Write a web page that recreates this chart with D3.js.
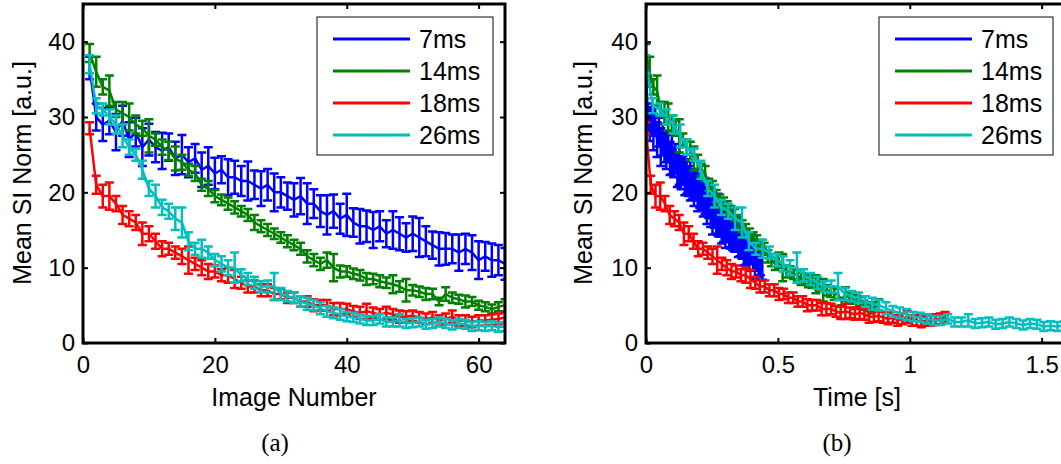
<!DOCTYPE html>
<html>
<head>
<meta charset="utf-8">
<script src="https://cdn.jsdelivr.net/npm/d3@7"></script>
<style>
  body { margin: 0; background: #fff; }
  svg { display: block; }
</style>
</head>
<body>
<svg id="fig" width="1061" height="464"></svg>
<script>
// series labels and echo times (ms)
const seriesNames = ["7ms", "14ms", "18ms", "26ms"];
const echoTimes = [7, 14, 18, 26];
const seriesColors = ["#0000ff", "#008000", "#ff0000", "#00bfbf"];

// mean SI norm per image (1..64)
const si7 = [36.5,30,29,29.5,28,29.5,27,28,26,27,26,25.5,26,24.5,25,24,24.5,23,23.5,22.5,23,22,22,21.5,21.5,21,20.5,21,20,20,19.5,19,
  19.5,18.5,18.5,17.5,17,17.5,16.5,17,16,15.5,15.5,15,15.5,14.5,15,14.5,14,14.5,14,13.5,13,12.5,12.5,12.5,12,12.5,12,11,11.5,11,11,10.5];
const si14 = [38.5,36,34,33.5,31,30.5,30,29,28.5,27.5,27,26,25.5,24.5,24,23,22.5,21,20.5,19.5,19,18.5,18,17.5,17,16,15.5,15,14.5,14,13.5,13,
  12.5,11.5,11,10.5,11,10,9.5,9.5,9.2,9,8.5,8.5,8.2,8,7.8,7.5,7,7,6.8,6.5,6.5,5.5,6.5,6,5.8,5.5,5.5,5,4.8,4.5,4.8,5];
const si18 = [28.5,21,19.5,19.5,18.5,17,16.5,16,14.5,14.5,13.5,12.5,12.5,12,11.5,11,10.5,10,9.5,9.5,9,9,8.5,8,7.5,7.5,7,7,6.5,6.5,6,6,
  5.5,5.5,5,5,5,4.5,4.5,4.5,4.2,4,4.2,4,3.8,4,3.8,3.5,3.5,3.6,3.4,3.2,3.4,3,3.2,3.5,3,3,2.8,3,3,3.1,3.2,3.4];
const si26 = [37,31.5,31,30,29,27.5,26,25,23,20.5,19.5,18,17.5,16.5,16,13.5,12.5,12.5,12,11,10.5,10,10,9,8.5,8,7.5,7.5,7.5,6.5,6.2,6,
  5.5,5.2,5,4.6,4.2,4,3.8,3.5,3.4,3.2,3,3,3.2,2.8,2.8,3,2.6,2.7,2.8,2.5,2.6,2.8,2.6,2.4,2.6,2.5,2.2,2.3,2.2,2.3,2.1,2.2];

// standard deviation (error bar half length)
const err7 = [1.5,1.8,2.2,1.8,2.4,2.0,2.3,1.9,2.5,2.1,2.0,2.4,1.8,2.2,2.6,2.0,1.9,2.3,2.5,2.1,1.8,2.4,2.2,2.0,2.6,1.9,2.3,2.1,2.5,2.0,1.8,2.2,
  2.4,2.7,1.9,2.1,2.6,2.2,2.0,2.8,1.9,2.3,2.1,2.4,2.0,1.8,2.5,2.2,1.9,2.3,2.6,2.0,1.8,2.2,2.1,1.9,2.4,2.0,2.3,2.5,1.9,2.2,2.0,2.1];
const err14 = [1.2,2.0,1.0,2.0,1.0,1.5,1.8,1.2,1.0,2.2,0.8,1.0,1.2,1.6,1.0,0.8,1.0,0.8,1.0,0.8,0.7,0.8,0.8,0.7,0.8,1.0,0.8,0.8,0.7,0.7,0.8,0.7,
  0.8,0.8,0.8,0.8,1.0,1.8,0.8,0.7,0.7,0.7,0.8,0.7,0.8,0.7,1.2,0.7,1.5,0.7,0.7,0.8,0.7,0.5,0.9,0.7,0.6,0.8,0.6,0.6,0.6,0.6,0.6,0.8];
const err18 = [0.8,1.2,1.5,1.8,1.0,1.2,1.0,1.0,1.5,1.0,1.0,1.0,0.8,0.8,1.0,1.8,0.8,1.0,1.0,0.8,0.8,1.0,1.2,0.8,0.8,0.8,0.8,0.8,0.8,0.7,0.7,0.7,
  0.7,0.7,0.8,0.7,0.7,0.8,0.8,0.7,0.7,0.8,1.0,0.7,0.7,0.8,0.7,0.8,0.7,0.7,0.7,0.7,0.7,0.7,0.7,0.8,0.7,0.7,0.7,0.7,0.7,0.7,0.7,0.7];
const err26 = [1.2,1.0,0.8,1.0,1.2,1.5,1.0,0.8,1.2,1.0,1.5,1.0,1.0,1.5,2.0,1.2,0.8,1.2,0.8,0.8,1.0,1.0,2.0,0.8,0.8,0.8,0.7,0.8,1.8,0.8,0.7,0.7,
  0.7,0.8,0.7,0.8,0.7,0.7,0.7,0.6,0.6,0.6,0.6,0.6,0.6,0.6,0.6,0.8,0.6,0.6,0.6,0.6,0.6,0.6,0.6,0.6,0.6,0.6,0.6,0.6,0.6,0.6,0.6,0.6];

const yTicks = [0, 10, 20, 30, 40];
const xTicksA = [0, 20, 40, 60];
const xTicksB = [0, 0.5, 1, 1.5];

const means = [si7, si14, si18, si26];
const errs = [err7, err14, err18, err26];

let svg = d3.select("#fig");
const font = "Liberation Sans, Arial, sans-serif";

//Build the rows for each series: image number and time
let series = seriesNames.map((name, k) => ({
  name: name,
  color: seriesColors[k],
  rows: means[k].map((v, i) => ({ img: i + 1, t: i * echoTimes[k] / 1000, v: v, e: errs[k][i] }))
}));

function drawPanel(opt) {
  let x = d3.scaleLinear().domain(opt.xDomain).range([opt.left, opt.left + 422]);
  let y = d3.scaleLinear().domain([0, 45]).range([343, 4]);
  let g = svg.append("g");

  //clip to axes
  g.append("clipPath").attr("id", opt.id)
    .append("rect").attr("x", opt.left).attr("y", 4).attr("width", 422).attr("height", 339);
  let plot = g.append("g").attr("clip-path", "url(#" + opt.id + ")");

  series.forEach(s => {
    let sg = plot.append("g").attr("stroke", s.color).attr("fill", "none").attr("stroke-width", 2.5);
    sg.append("path")
      .datum(s.rows)
      .attr("d", d3.line().x(d => x(d[opt.key])).y(d => y(d.v)));
    let capW = 4.5;
    sg.selectAll("path.eb")
      .data(s.rows)
      .enter().append("path")
      .attr("class", "eb")
      .attr("d", d => {
        let cx = x(d[opt.key]), y0 = y(d.v - d.e), y1 = y(d.v + d.e);
        return `M${cx},${y0}V${y1}M${cx - capW},${y0}H${cx + capW}M${cx - capW},${y1}H${cx + capW}`;
      });
  });

  //Axes with inward ticks on all sides
  let axB = g.append("g").attr("transform", "translate(0,343)")
    .call(d3.axisBottom(x).tickValues(opt.xTicks).tickSize(-5).tickPadding(13).tickFormat(d3.format("")));
  let axT = g.append("g").attr("transform", "translate(0,4)")
    .call(d3.axisTop(x).tickValues(opt.xTicks).tickSize(-5).tickFormat(""));
  let axL = g.append("g").attr("transform", `translate(${opt.left},0)`)
    .call(d3.axisLeft(y).tickValues(yTicks).tickSize(-5).tickPadding(8));
  let axR = g.append("g").attr("transform", `translate(${opt.left + 422},0)`)
    .call(d3.axisRight(y).tickValues(yTicks).tickSize(-5).tickFormat(""));
  [axB, axT, axL, axR].forEach(a => {
    a.select(".domain").remove();
    a.selectAll(".tick line").attr("stroke", "#000").attr("stroke-width", 2);
    a.selectAll("text").attr("font-family", font).attr("font-size", 24).attr("fill", "#000");
  });

  //box
  g.append("rect")
    .attr("x", opt.left).attr("y", 4).attr("width", 422).attr("height", 339)
    .attr("fill", "none").attr("stroke", "#000").attr("stroke-width", 3);

  //axis labels
  g.append("text")
    .attr("x", opt.left + 211).attr("y", 406)
    .attr("text-anchor", "middle").attr("font-family", font).attr("font-size", 25)
    .text(opt.xLabel);
  g.append("text")
    .attr("transform", `translate(${opt.left - opt.yLabOff},173) rotate(-90)`)
    .attr("text-anchor", "middle").attr("font-family", font).attr("font-size", 25)
    .text("Mean SI Norm [a.u.]");
  g.append("text")
    .attr("x", opt.capX).attr("y", 451)
    .attr("text-anchor", "middle").attr("font-family", "Liberation Serif, Times New Roman, serif").attr("font-size", 25)
    .text(opt.caption);

  //Legend
  let lg = g.append("g").attr("transform", `translate(${opt.legX},17)`);
  lg.append("rect").attr("width", opt.legW).attr("height", 138)
    .attr("fill", "#fff").attr("stroke", "#333").attr("stroke-width", 1.2);
  series.forEach((s, k) => {
    let yy = 22 + k * 32;
    lg.append("line").attr("x1", 16).attr("x2", 93).attr("y1", yy).attr("y2", yy)
      .attr("stroke", s.color).attr("stroke-width", 3);
    lg.append("text").attr("x", 102).attr("y", yy).attr("dy", "0.36em")
      .attr("font-family", font).attr("font-size", 25).text(s.name);
  });
}

drawPanel({ id: "clipA", left: 83, xDomain: [0, 64], key: "img", xTicks: xTicksA, xLabel: "Image Number", caption: "(a)", capX: 275, legX: 317, legW: 176, yLabOff: 52 });
drawPanel({ id: "clipB", left: 646, xDomain: [0, 1.6], key: "t", xTicks: xTicksB, xLabel: "Time [s]", caption: "(b)", capX: 837, legX: 879, legW: 174, yLabOff: 54 });
</script>
</body>
</html>
